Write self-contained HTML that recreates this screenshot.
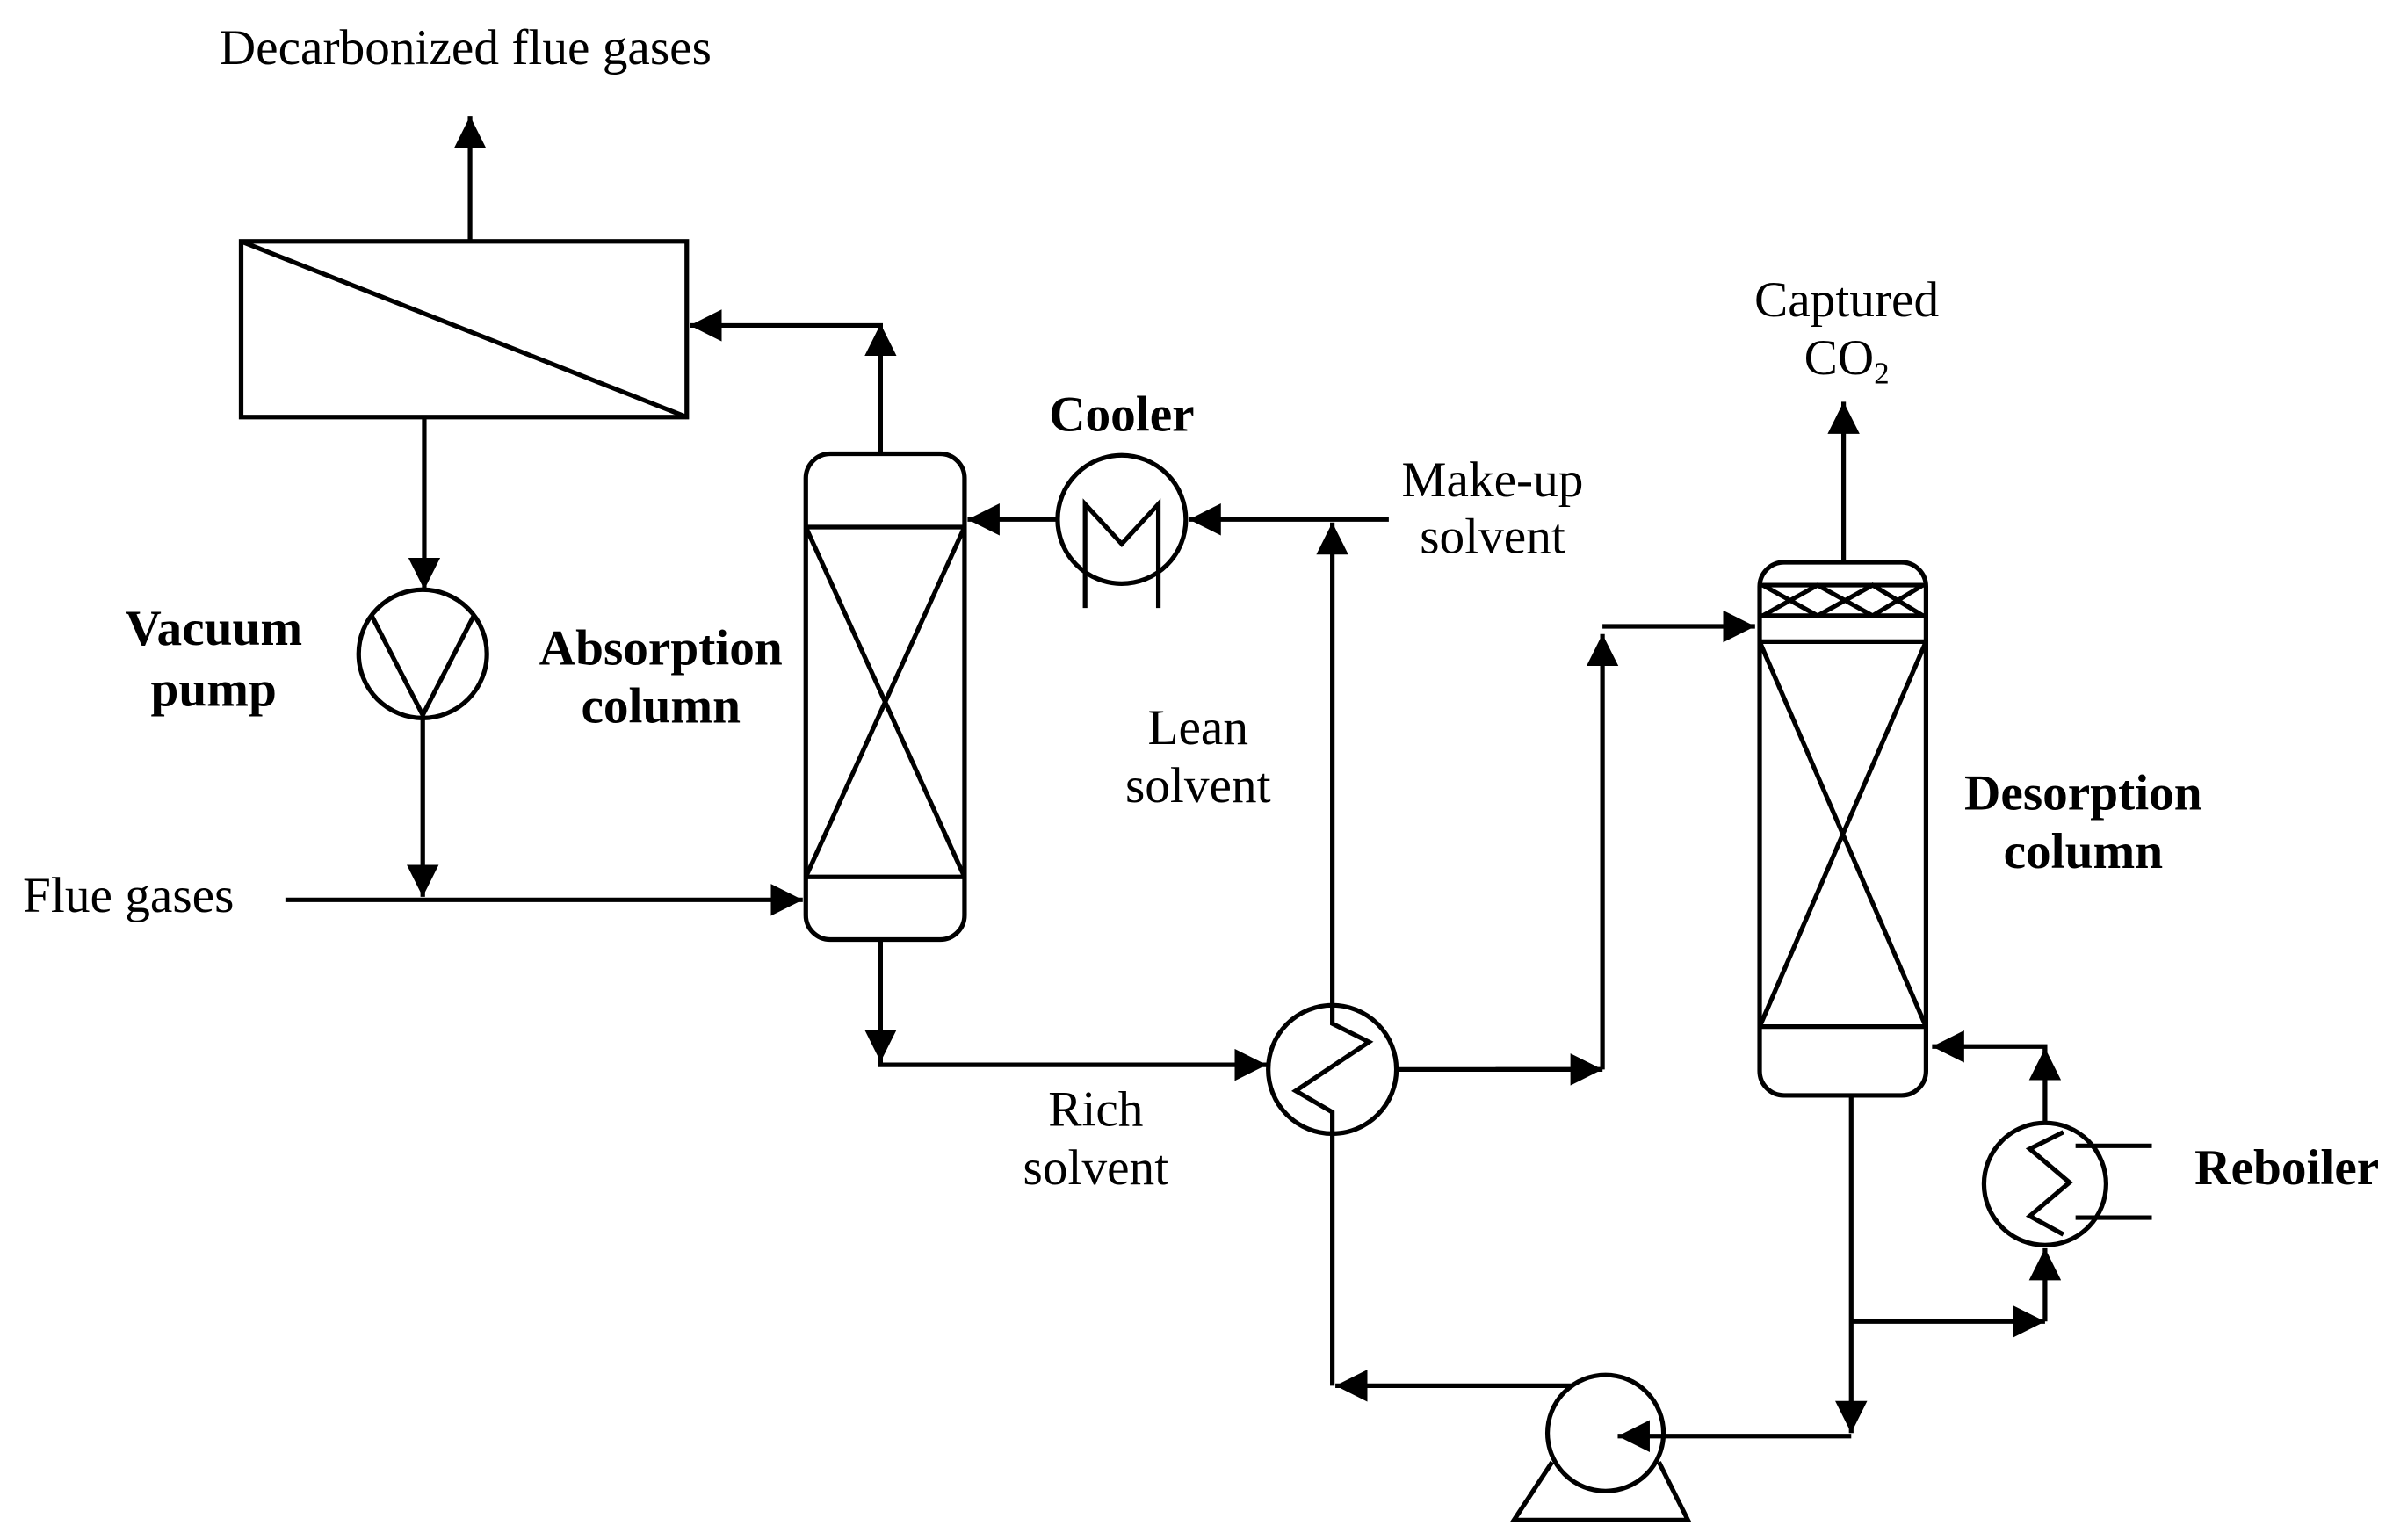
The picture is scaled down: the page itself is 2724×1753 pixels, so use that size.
<!DOCTYPE html>
<html><head><meta charset="utf-8"><style>
html,body{margin:0;padding:0;background:#fff;}
svg{display:block;}
text{font-family:"Liberation Serif",serif;font-size:33px;fill:#000;}
.b{font-weight:bold;}
</style></head><body>
<svg width="2724" height="1753" viewBox="0 0 1568 1008" preserveAspectRatio="none" xmlns="http://www.w3.org/2000/svg">
<defs>
<marker id="a" viewBox="0 0 10 10" refX="10" refY="5" markerWidth="7" markerHeight="7" markerUnits="strokeWidth" orient="auto">
<path d="M0,0 L10,5 L0,10 z" fill="#000"/></marker>
</defs>
<g stroke="#000" stroke-width="3" fill="none">
<rect x="158" y="158" width="292" height="115"/>
<line x1="158" y1="158" x2="450" y2="273"/>
<line x1="308" y1="158" x2="308" y2="76" marker-end="url(#a)"/>
<line x1="278" y1="273" x2="278" y2="386" marker-end="url(#a)"/>
<circle cx="277" cy="428" r="42"/>
<polyline points="243,402 277,468 311,402"/>
<line x1="277" y1="470" x2="277" y2="587" marker-end="url(#a)"/>
<line x1="187" y1="589" x2="526" y2="589" marker-end="url(#a)"/>
<rect x="528" y="297" width="104" height="318" rx="16"/>
<line x1="528" y1="345" x2="632" y2="345"/>
<line x1="528" y1="574" x2="632" y2="574"/>
<line x1="528" y1="345" x2="632" y2="574"/>
<line x1="632" y1="345" x2="528" y2="574"/>
<polyline points="577,297 577,213 452,213" marker-end="url(#a)"/>
<line x1="577" y1="213" x2="577" y2="212" marker-end="url(#a)"/>
<polyline points="577,615 577,697 830,697" marker-end="url(#a)"/>
<line x1="577" y1="660" x2="577" y2="695" marker-end="url(#a)"/>
<circle cx="735" cy="340" r="42"/>
<polyline points="711,398 711,330 735,356 759,330 759,398"/>
<line x1="693" y1="340" x2="634" y2="340" marker-end="url(#a)"/>
<line x1="910" y1="340" x2="779" y2="340" marker-end="url(#a)"/>
<line x1="873" y1="658" x2="873" y2="342" marker-end="url(#a)"/>
<circle cx="873" cy="700" r="42"/>
<polyline points="873,658 873,670 897,682 849,714 873,728 873,742"/>
<polyline points="915,700 1050,700" />
<line x1="980" y1="700" x2="1050" y2="700" marker-end="url(#a)"/>
<line x1="1050" y1="700" x2="1050" y2="415" marker-end="url(#a)"/>
<line x1="1050" y1="410" x2="1150" y2="410" marker-end="url(#a)"/>
<polyline points="873,742 873,907"/>
<line x1="1030" y1="907" x2="875" y2="907" marker-end="url(#a)"/>
<circle cx="1052" cy="938" r="38"/>
<polyline points="1017,957 992,995 1106,995 1087,957"/>
<line x1="1213" y1="940" x2="1060" y2="940" marker-end="url(#a)"/>
<rect x="1153" y="368" width="109" height="349" rx="16"/>
<line x1="1153" y1="383" x2="1262" y2="383"/>
<line x1="1153" y1="403" x2="1262" y2="403"/>
<line x1="1153" y1="420" x2="1262" y2="420"/>
<line x1="1153" y1="672" x2="1262" y2="672"/>
<polyline points="1155,383 1191,403 1227,383 1260,403"/>
<polyline points="1155,403 1191,383 1227,403 1260,383"/>
<line x1="1153" y1="420" x2="1262" y2="672"/>
<line x1="1262" y1="420" x2="1153" y2="672"/>
<line x1="1208" y1="368" x2="1208" y2="263" marker-end="url(#a)"/>
<line x1="1213" y1="717" x2="1213" y2="938" marker-end="url(#a)"/>
<line x1="1213" y1="865" x2="1340" y2="865" marker-end="url(#a)"/>
<line x1="1340" y1="865" x2="1340" y2="817" marker-end="url(#a)"/>
<circle cx="1340" cy="775" r="40"/>
<polyline points="1360,750 1410,750"/>
<polyline points="1360,797 1410,797"/>
<polyline points="1352,741 1330,752 1356,774 1330,796 1352,808"/>
<polyline points="1340,735 1340,685 1266,685" marker-end="url(#a)"/>
<line x1="1340" y1="700" x2="1340" y2="686" marker-end="url(#a)"/>
</g>
<text x="305" y="42" text-anchor="middle">Decarbonized flue gases</text>
<text x="15" y="597">Flue gases</text>
<text x="140" y="422" text-anchor="middle" class="b">Vacuum</text>
<text x="140" y="462" text-anchor="middle" class="b">pump</text>
<text x="433" y="435" text-anchor="middle" class="b">Absorption</text>
<text x="433" y="473" text-anchor="middle" class="b">column</text>
<text x="735" y="282" text-anchor="middle" class="b">Cooler</text>
<text x="978" y="325" text-anchor="middle">Make-up</text>
<text x="978" y="362" text-anchor="middle">solvent</text>
<text x="785" y="487" text-anchor="middle">Lean</text>
<text x="785" y="525" text-anchor="middle">solvent</text>
<text x="718" y="737" text-anchor="middle">Rich</text>
<text x="718" y="775" text-anchor="middle">solvent</text>
<text x="1210" y="207" text-anchor="middle">Captured</text>
<text x="1210" y="245" text-anchor="middle">CO<tspan font-size="20" dy="6">2</tspan></text>
<text x="1365" y="530" text-anchor="middle" class="b">Desorption</text>
<text x="1365" y="568" text-anchor="middle" class="b">column</text>
<text x="1438" y="775" class="b">Reboiler</text>
</svg>
</body></html>
